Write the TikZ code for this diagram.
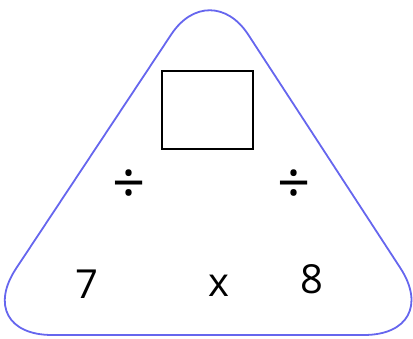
\documentclass[tikz,border=0pt]{standalone}
\usepackage{fontspec}
\setmainfont{Open Sans}
\usetikzlibrary{positioning}
\definecolor{kek}{RGB}{102,102,238}
\tikzset{
  haromszog/.style={draw=kek,line width=1.8pt,rounded corners=80pt},
  doboz/.style={draw,line width=1.3pt,minimum width=91pt,minimum height=78pt,inner sep=0pt},
  szam/.style={inner sep=0pt,font=\fontsize{40}{48}\selectfont},
  jel/.style={inner sep=0pt,font=\fontsize{58}{64}\selectfont},
}
\begin{document}
\begin{tikzpicture}[x=1pt,y=1pt]
  \useasboundingbox (0,0) rectangle (413,339);
  \coordinate (bal) at (-28,4);
  \coordinate (jobb) at (444,4);
  \coordinate (csucs) at (210,363);
  \draw[haromszog] (208,4) -- (jobb) [rounded corners=70pt] -- (csucs)
    [rounded corners=80pt] -- (bal) -- cycle;
  \node[doboz] (ures) at (207.5,229) {};
  \node[jel] (oszt1) at (129,152) {÷};
  \node[jel] (oszt2) at (294,152) {÷};
  \node[szam] (het) at (87,54.5) {7};
  \node[szam] (szor) at (219,53) {x};
  \node[szam] (nyolc) at (312,60) {8};
\end{tikzpicture}
\end{document}
